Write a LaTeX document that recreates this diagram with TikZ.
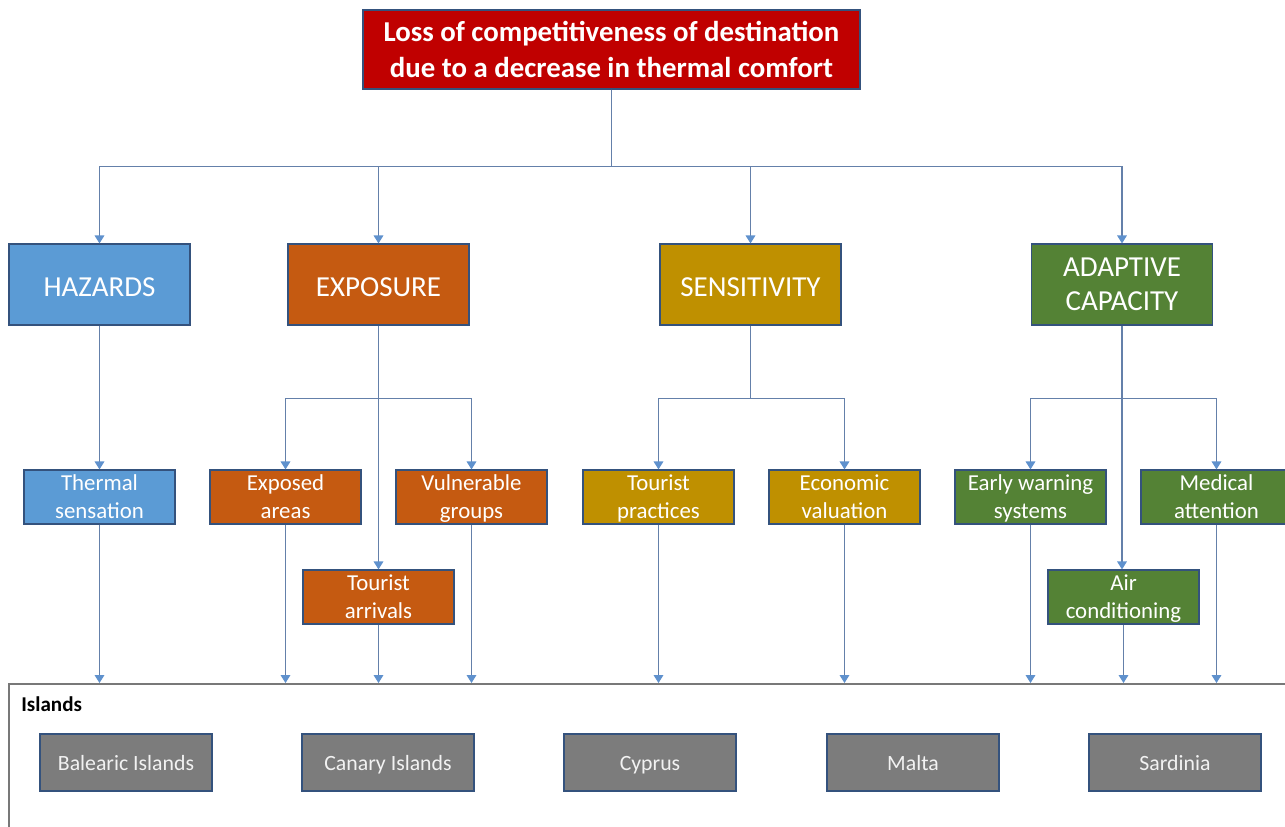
\documentclass[tikz,border=0pt]{standalone}
\usepackage{fontspec}
\setmainfont{Carlito}
\usetikzlibrary{arrows.meta}

\definecolor{riskred}{RGB}{192,0,0}
\definecolor{hazblue}{RGB}{91,155,213}
\definecolor{exporange}{RGB}{197,90,17}
\definecolor{sensgold}{RGB}{191,144,0}
\definecolor{adaptgreen}{RGB}{84,130,53}
\definecolor{islegray}{RGB}{124,124,124}
\definecolor{boxline}{RGB}{52,82,125}
\definecolor{linkc}{RGB}{100,128,170}
\definecolor{tipc}{RGB}{95,145,205}
\definecolor{framegray}{RGB}{120,120,120}

% same ascent on every first line, fixed depth on every last line
\newcommand{\topline}[1]{\rule{0pt}{#1}}

\tikzset{
  box/.style={draw=boxline, line width=0.7pt, text=white, align=center, inner sep=0pt},
  riskbox/.style={box, fill=riskred, minimum width=9.94cm, minimum height=1.58cm,
    font=\fontsize{16.4}{20.4}\selectfont\bfseries,
    execute at begin node=\topline{13.6pt}, text depth=0pt},
  compbox/.style={box, minimum width=3.62cm, minimum height=1.62cm,
    font=\fontsize{16.5}{19.5}\selectfont,
    execute at begin node=\topline{14.1pt}, text depth=0pt},
  subbox/.style={box, minimum width=3.02cm, minimum height=1.08cm,
    font=\fontsize{13}{15.9}\selectfont,
    execute at begin node=\topline{11.9pt}, text depth=0pt},
  islebox/.style={box, fill=islegray, text=white!95!black, minimum width=3.44cm,
    minimum height=1.14cm, font=\fontsize{12.4}{14.5}\selectfont,
    execute at begin node=\topline{11.4pt}, text depth=2pt},
  link/.style={draw=linkc, line width=0.6pt},
  arrow/.style={link, -{Triangle[width=5.5pt,length=4.5pt,fill=tipc,color=tipc]}}
}

\begin{document}
\begin{tikzpicture}[x=0.02cm, y=-0.02cm]
 \useasboundingbox (0,0) rectangle (1285,827);
 \fill[white] (0,0) rectangle (1285,827);

 % risk on top
 \node (risk) [riskbox] at (611.5,49.5) {Loss of competitiveness of destination\\due to a decrease in thermal comfort};

 % the four components
 \node (haz) [compbox, fill=hazblue] at (99.5,284.5) {HAZARDS};
 \node (exp) [compbox, fill=exporange] at (378.5,284.5) {EXPOSURE};
 \node (sens) [compbox, fill=sensgold] at (750.5,284.5) {SENSITIVITY};
 \node (adapt) [compbox, fill=adaptgreen] at (1122,284.5) {ADAPTIVE\\CAPACITY};

 % indicators
 \begin{scope}[every node/.style={subbox}]
   \node (therm) [fill=hazblue] at (99.5,497) {Thermal\\sensation};
   \node (areas) [fill=exporange] at (285.5,497) {Exposed\\areas};
   \node (groups) [fill=exporange] at (471.5,497) {Vulnerable\\groups};
   \node (arriv) [fill=exporange] at (378.5,597) {Tourist\\arrivals};
   \node (pract) [fill=sensgold] at (658.5,497) {Tourist\\practices};
   \node (econ) [fill=sensgold] at (844.5,497) {Economic\\valuation};
   \node (warn) [fill=adaptgreen] at (1030.5,497) {Early warning\\systems};
   \node (medic) [fill=adaptgreen] at (1216.5,497) {Medical\\attention};
   \node (aircon) [fill=adaptgreen] at (1123.5,597) {Air\\conditioning};
 \end{scope}

 % islands frame
 \coordinate (frametop) at (0,683);
 \draw[framegray, line width=1.1pt] (1300,684) -| (9,840);
 \node (islands) [anchor=west, font=\fontsize{12}{14}\selectfont\bfseries, inner sep=0pt] at (21,704) {Islands};
 \node (bal) [islebox] at (126,762.5) {Balearic Islands};
 \node (can) [islebox] at (388,762.5) {Canary Islands};
 \node (cyp) [islebox] at (650,762.5) {Cyprus};
 \node (mal) [islebox] at (913,762.5) {Malta};
 \node (sar) [islebox] at (1175,762.5) {Sardinia};

 % risk to components
 \foreach \c in {haz,exp,sens,adapt}
   \draw[arrow] (risk.south) -- ++(0,77) -| (\c.north);

 % components to indicators
 \draw[arrow] (haz.south) -- (therm.north);
 \draw[arrow] (exp.south) -- ++(0,73) -| (areas.north);
 \draw[arrow] (exp.south) -- ++(0,73) -| (groups.north);
 \draw[arrow] (exp.south) -- (arriv.north);
 \draw[arrow] (sens.south) -- ++(0,73) -| (pract.north);
 \draw[arrow] (sens.south) -- ++(0,73) -| (econ.north);
 \draw[arrow] (adapt.south) -- ++(0,73) -| (warn.north);
 \draw[arrow] (adapt.south) -- ++(0,73) -| (medic.north);
 \draw[arrow] (adapt.south) -- (aircon.north -| adapt.south);

 % indicators down to the islands
 \foreach \i in {therm,areas,groups,arriv,pract,econ,warn,medic,aircon}
   \draw[arrow] (\i.south) -- (\i.south |- frametop);
\end{tikzpicture}
\end{document}
